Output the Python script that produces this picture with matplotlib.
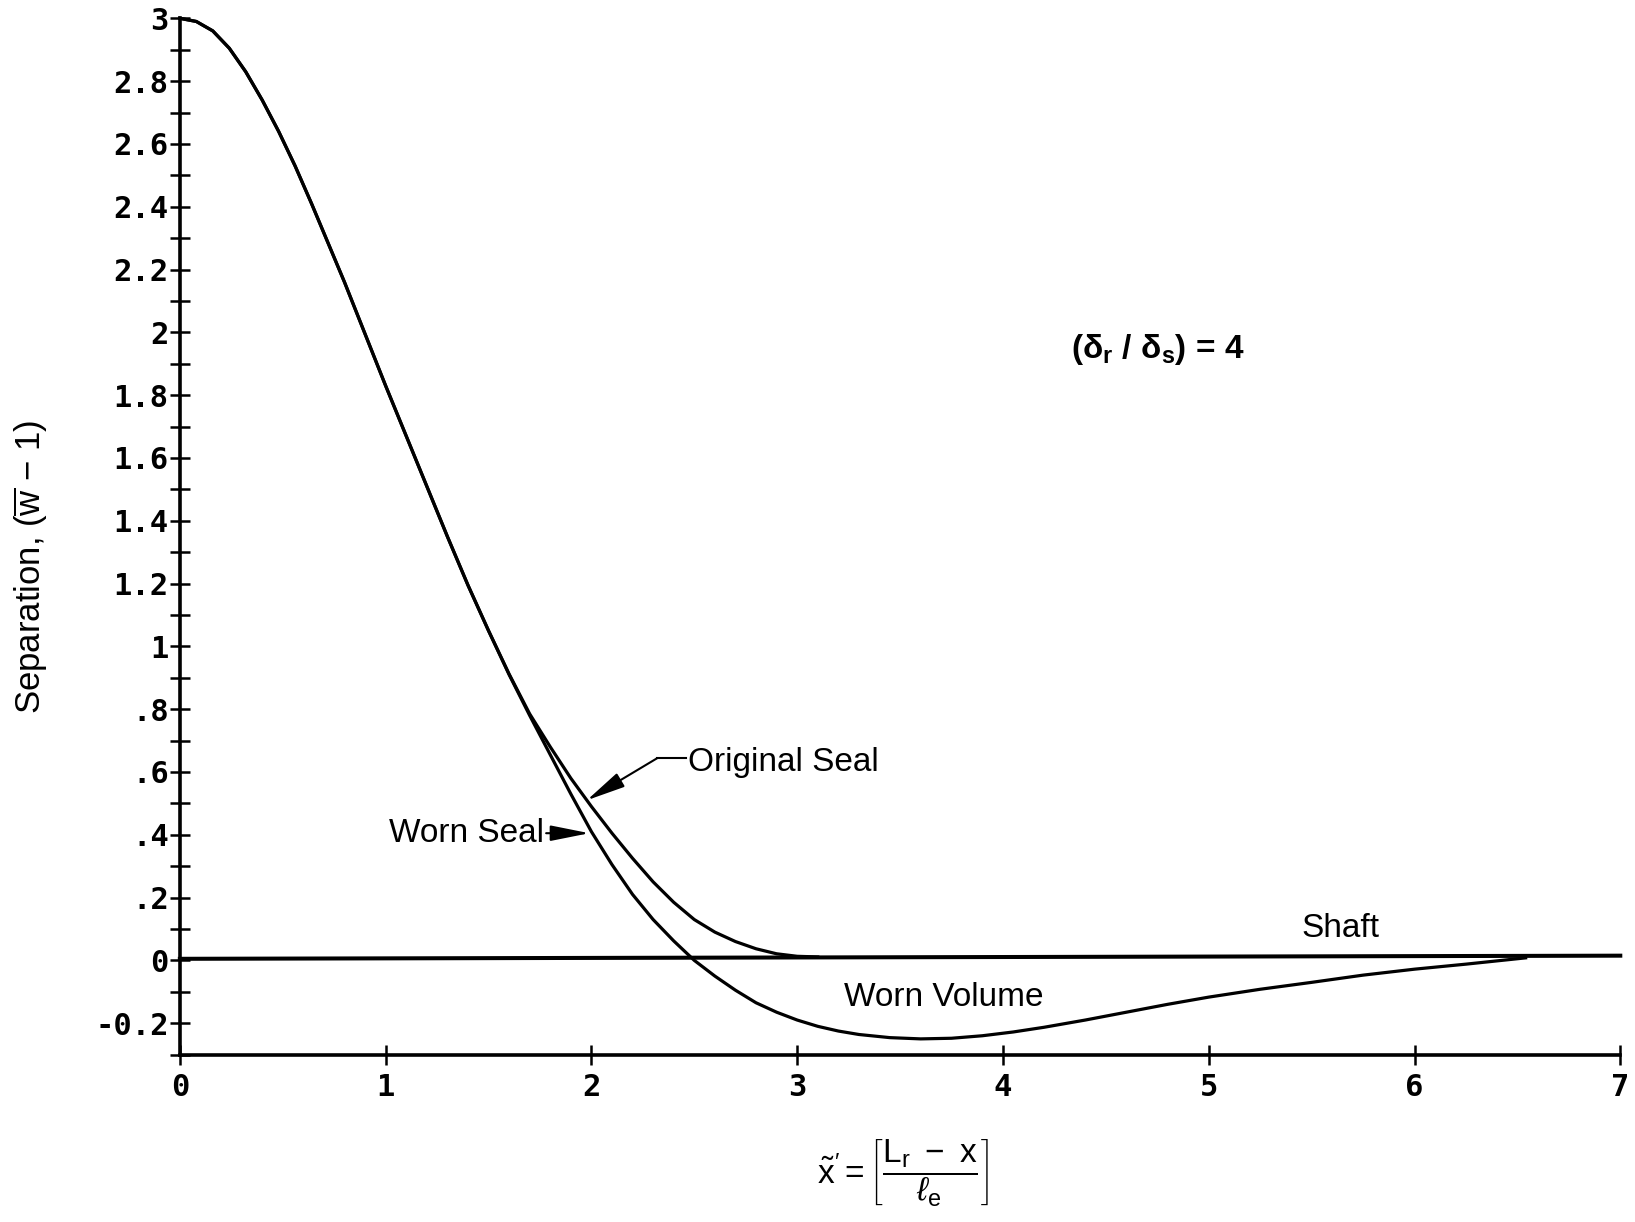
import matplotlib
matplotlib.use("Agg")
import matplotlib.pyplot as plt

plt.rcParams['font.family'] = ['Liberation Sans', 'DejaVu Sans']
plt.rcParams['mathtext.fontset'] = 'custom'
plt.rcParams['mathtext.rm'] = 'Liberation Sans'
plt.rcParams['mathtext.it'] = 'Liberation Sans:italic'
plt.rcParams['mathtext.bf'] = 'Liberation Sans:bold'

# original seal profile
x_orig = [0, 0.08, 0.16, 0.24, 0.32, 0.40, 0.48, 0.56, 0.64, 0.72, 0.80, 0.90,
          1.00, 1.10, 1.20, 1.30, 1.40, 1.50, 1.60, 1.70, 1.80, 1.90, 2.00,
          2.10, 2.20, 2.30, 2.40, 2.50, 2.60, 2.70, 2.80, 2.90, 3.00, 3.10]
y_orig = [3.0, 2.99, 2.96, 2.905, 2.83, 2.74, 2.64, 2.53, 2.41, 2.285, 2.16,
          1.995, 1.83, 1.67, 1.51, 1.35, 1.195, 1.05, 0.912, 0.785, 0.68,
          0.58, 0.49, 0.405, 0.325, 0.25, 0.185, 0.13, 0.09, 0.06, 0.037,
          0.021, 0.013, 0.011]

# worn seal profile
x_worn = [0, 0.08, 0.16, 0.24, 0.32, 0.40, 0.48, 0.56, 0.64, 0.72, 0.80, 0.90,
          1.00, 1.10, 1.20, 1.30, 1.40, 1.50, 1.60, 1.70, 1.80, 1.90, 2.00,
          2.10, 2.20, 2.30, 2.40, 2.50, 2.60, 2.70, 2.80, 2.90, 3.00, 3.10,
          3.20, 3.30, 3.45, 3.60, 3.75, 3.90, 4.05, 4.20, 4.40, 4.60, 4.80,
          5.00, 5.25, 5.50, 5.75, 6.00, 6.25, 6.54]
y_worn = [3.0, 2.99, 2.96, 2.905, 2.83, 2.74, 2.64, 2.53, 2.41, 2.285, 2.16,
          1.995, 1.83, 1.67, 1.51, 1.35, 1.195, 1.05, 0.91, 0.78, 0.655,
          0.53, 0.41, 0.305, 0.21, 0.13, 0.062, 0.0, -0.05, -0.095, -0.135,
          -0.165, -0.19, -0.21, -0.225, -0.236, -0.246, -0.25, -0.248, -0.24,
          -0.228, -0.213, -0.19, -0.165, -0.14, -0.117, -0.092, -0.07, -0.047,
          -0.028, -0.012, 0.008]

x_shaft = [0, 7]
y_shaft = [0.005, 0.015]

y_ticks = [-0.2, 0, 0.2, 0.4, 0.6, 0.8, 1, 1.2, 1.4, 1.6, 1.8, 2, 2.2, 2.4, 2.6, 2.8, 3]
y_labels = ['-0.2', '0', '.2', '.4', '.6', '.8', '1', '1.2', '1.4', '1.6', '1.8',
            '2', '2.2', '2.4', '2.6', '2.8', '3']
y_minor = [-0.3, -0.1, 0.1, 0.3, 0.5, 0.7, 0.9, 1.1, 1.3, 1.5, 1.7, 1.9, 2.1,
           2.3, 2.5, 2.7, 2.9]
x_ticks = [0, 1, 2, 3, 4, 5, 6, 7]

fig = plt.figure(figsize=(16.35, 12.22), dpi=100)
ax = fig.add_axes([0.110, 0.137, 0.881, 0.848])

lw = 2.3
ax.plot(x_orig, y_orig, color='black', lw=lw, clip_on=False)
ax.plot(x_worn, y_worn, color='black', lw=lw, clip_on=False)
ax.plot(x_shaft, y_shaft, color='black', lw=lw + 0.6, clip_on=False)

ax.set_xlim(0, 7)
ax.set_ylim(-0.3, 3)

for s in ['top', 'right']:
    ax.spines[s].set_visible(False)
for s in ['left', 'bottom']:
    ax.spines[s].set_linewidth(2.6)

ax.set_yticks(y_ticks)
ax.set_yticklabels(y_labels)
ax.set_yticks(y_minor, minor=True)
ax.set_xticks(x_ticks)
ax.tick_params(axis='both', which='both', direction='inout', length=14, width=1.8)
ax.tick_params(axis='y', pad=1)
ax.tick_params(axis='x', pad=6)
for lab in ax.get_yticklabels() + ax.get_xticklabels():
    lab.set_family('DejaVu Sans Mono')
    lab.set_weight('bold')
    lab.set_fontsize(22)

fs = 24
head = '-|>,head_length=1.0,head_width=0.2'
ax.text(4.33, 1.946, r'($\mathbf{\delta_r}$ / $\mathbf{\delta_s}$) = 4', fontsize=fs,
        fontweight='bold', ha='left', va='center')
ax.text(2.47, 0.631, 'Original Seal', fontsize=fs, ha='left', va='center')
ax.plot([2.46, 2.32], [0.644, 0.644], color='black', lw=1.5)
ax.annotate('', xy=(1.978, 0.51), xytext=(2.32, 0.644),
            arrowprops=dict(arrowstyle=head, color='black', lw=1.5,
                            mutation_scale=24, shrinkA=0, shrinkB=0))
ax.text(1.77, 0.403, 'Worn Seal', fontsize=fs, ha='right', va='center')
ax.annotate('', xy=(1.99, 0.405), xytext=(1.78, 0.405),
            arrowprops=dict(arrowstyle=head, color='black', lw=1.5,
                            mutation_scale=24, shrinkA=0, shrinkB=0))
ax.text(3.71, -0.117, 'Worn Volume', fontsize=fs, ha='center', va='center')
ax.text(5.64, 0.103, 'Shaft', fontsize=fs, ha='center', va='center')

fig.text(0.019, 0.536, r'Separation, ($\overline{\mathrm{w}}$ $-$ 1)', fontsize=25,
         rotation=90, ha='center', va='center')
fig.text(0.552, 0.040,
         r"$\tilde{\mathrm{x}}' = \left[\dfrac{\mathrm{L_r\ -\ x}}{\ell_\mathrm{e}}\right]$",
         fontsize=fs, ha='center', va='center')

fig.savefig('out.png', dpi=100)
